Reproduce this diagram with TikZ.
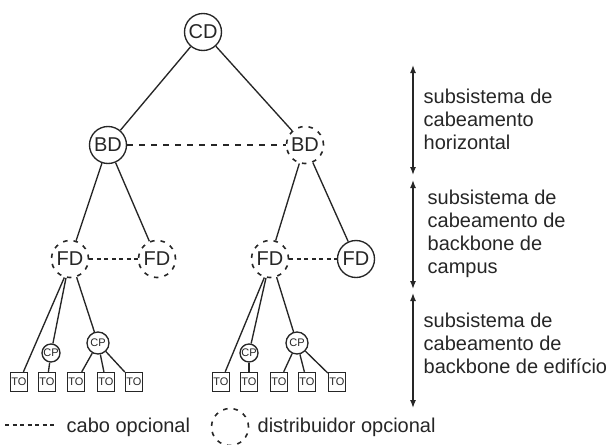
\documentclass[tikz,border=0pt]{standalone}
\usepackage{fontspec}
\setmainfont{Liberation Sans}
\usetikzlibrary{positioning, arrows.meta}

\tikzset{
  dist/.style={circle, draw, minimum size=37pt, inner sep=0pt, font=\fontsize{20}{23}\selectfont},
  optdist/.style={dist, line width=1.6pt, dash pattern=on 4.5pt off 6pt},
  tobox/.style={draw, minimum width=17pt, minimum height=19pt, inner sep=0pt, font=\fontsize{11}{11}\selectfont},
  cpsmall/.style={circle, draw, minimum size=18pt, inner sep=0pt, font=\fontsize{11}{11}\selectfont},
  cpbig/.style={cpsmall, minimum size=22pt},
  optcable/.style={line width=1.6pt, dash pattern=on 4pt off 3.5pt},
  longcable/.style={optcable, dash pattern=on 6pt off 6pt},
  rangearrow/.style={{Latex[length=8pt,width=6pt]}-{Latex[length=8pt,width=6pt]}},
  note/.style={anchor=north west, align=left, inner sep=0pt, font=\fontsize{20}{23}\selectfont}
}

\begin{document}
\begin{tikzpicture}[x=1pt, y=-1pt, line width=1.35pt, draw=black!85, text=black!85]
    \useasboundingbox (0,0) rectangle (615,444);

    % distribuidores
    \node[dist] (cd) at (203,32) {CD};
    \node[dist] (bdl) at (108,145) {BD};
    \node[optdist] (bdr) at (305,145) {BD};
    \node[optdist] (fd1) at (70,259) {FD};
    \node[optdist] (fd2) at (157,259) {FD};
    \node[optdist] (fd3) at (270,259) {FD};
    \node[dist] (fd4) at (356,259) {FD};

    % pontos de consolidacao
    \node[cpsmall] (cp1) at (51,353) {CP};
    \node[cpbig] (cp2) at (98,343) {CP};
    \node[cpsmall] (cp3) at (249,353) {CP};
    \node[cpbig] (cp4) at (297,343) {CP};

    % tomadas
    \node[tobox] (to1) at (19,382) {TO};
    \node[tobox] (to2) at (47,382) {TO};
    \node[tobox] (to3) at (76,382) {TO};
    \node[tobox] (to4) at (106,382) {TO};
    \node[tobox] (to5) at (134,382) {TO};
    \node[tobox] (to6) at (221,382) {TO};
    \node[tobox] (to7) at (249,382) {TO};
    \node[tobox] (to8) at (279,382) {TO};
    \node[tobox] (to9) at (307,382) {TO};
    \node[tobox] (to10) at (337,382) {TO};

    % cabos
    \draw (cd) -- (bdl);
    \draw (cd) -- (bdr);
    \draw[longcable] (bdl) -- (bdr);
    \draw (bdl) -- (fd1);
    \draw (bdl) -- (fd2);
    \draw (bdr) -- (fd3);
    \draw (bdr) -- (fd4);
    \draw[optcable] (fd1) -- (fd2);
    \draw[optcable] (fd3) -- (fd4);

    \draw (fd1.253) -- (to1);
    \draw (fd1.258) -- (cp1);
    \draw (fd1.290) -- (cp2);
    \draw (cp1) -- (to2);
    \draw (cp2) -- (to3);
    \draw (cp2) -- (to4);
    \draw (cp2) -- (to5);

    \draw (fd3.253) -- (to6);
    \draw (fd3.258) -- (cp3);
    \draw (fd3.290) -- (cp4);
    \draw (cp3) -- (to7);
    \draw (cp4) -- (to8);
    \draw (cp4) -- (to9);
    \draw (cp4) -- (to10);

    % subsistemas
    \coordinate (a1) at (413,65);
    \coordinate (a2) at (413,175);
    \coordinate (a3) at (413,180);
    \coordinate (a4) at (413,289);
    \coordinate (a5) at (413,293);
    \coordinate (a6) at (413,408);
    \draw[rangearrow] (a1) -- (a2);
    \draw[rangearrow] (a3) -- (a4);
    \draw[rangearrow] (a5) -- (a6);

    \node[note] (horiz) at (423,88) {subsistema de\\cabeamento\\horizontal};
    \node[note] (campus) at (427,189) {subsistema de\\cabeamento de\\backbone de\\campus};
    \node[note] (edif) at (423,312) {subsistema de\\cabeamento de\\backbone de edifício};

    % legenda
    \coordinate (l1) at (5,425);
    \coordinate (l2) at (57,425);
    \draw[optcable] (l1) -- (l2);
    \node[anchor=base west, inner sep=0pt, font=\fontsize{20}{23}\selectfont] (lcabo) at (66,432) {cabo opcional};
    \node[optdist] (lcirc) at (230,427) {};
    \node[anchor=base west, inner sep=0pt, font=\fontsize{20}{23}\selectfont] (ldist) at (257,432) {distribuidor opcional};
\end{tikzpicture}
\end{document}
